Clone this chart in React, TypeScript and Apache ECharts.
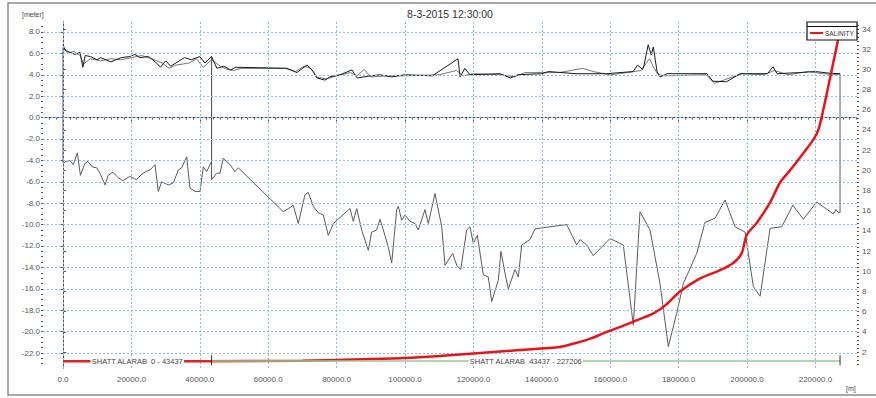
import React, { useEffect, useRef } from "react";
import * as echarts from "echarts";

// ---------- axis ticks ----------
const xTicks = [0, 20000, 40000, 60000, 80000, 100000, 120000, 140000, 160000, 180000, 200000, 220000];
const leftTicks = [-22, -20, -18, -16, -14, -12, -10, -8, -6, -4, -2, 0, 2, 4, 6, 8];
const rightTicks = [2, 4, 6, 8, 10, 12, 14, 16, 18, 20, 22, 24, 26, 28, 30, 32, 34];

// ---------- water level (meter) ----------
const waterLevelA: [number, number][] = [
  [0, 6.8], [600, 6.3], [2000, 6.1], [3500, 5.9], [5000, 6.1], [5800, 4.7], [6500, 5.8], [8000, 5.7],
  [10000, 5.4], [11000, 5.6], [14000, 5.2], [17000, 5.6], [19500, 5.7], [21000, 5.9], [22500, 5.6],
  [25000, 5.7], [27000, 5.2], [28500, 4.7], [30000, 5.3], [31500, 4.8], [33500, 5.2], [35500, 5.6],
  [37500, 5.4], [40000, 5.7], [41500, 5.1], [43437, 5.7], [45000, 4.6], [47000, 4.8], [49000, 4.45],
  [50500, 4.7], [65500, 4.6], [68400, 4.2], [70000, 4.6], [71400, 4.9], [73200, 4.3], [74300, 3.7],
  [76600, 3.5], [78000, 3.8], [81000, 4.0], [84500, 4.45], [86000, 3.7], [90000, 3.9], [92600, 4.0],
  [96000, 3.8], [100000, 4.0], [108000, 3.9], [115500, 5.5], [116100, 3.8], [117500, 4.6], [119000, 4.0],
  [127800, 4.1], [130800, 3.7], [133000, 4.0], [140000, 4.1], [142000, 4.3], [150000, 4.1], [159000, 4.1],
  [166700, 4.3], [168000, 4.9], [169500, 4.5], [169900, 4.9], [171100, 6.8], [172000, 5.85], [172600, 6.6],
  [173700, 4.3], [174600, 3.8], [176600, 4.1], [188300, 4.1], [190000, 3.4], [194000, 3.35], [198000, 4.1],
  [206000, 4.1], [207600, 4.75], [208800, 4.1], [215000, 4.2], [220000, 4.3], [224000, 4.15], [227206, 4.1],
];
const waterLevelB: [number, number][] = [
  [0, 6.5], [1500, 6.0], [3000, 6.2], [5000, 5.8], [6000, 5.0], [8000, 5.5], [11000, 5.3], [14000, 5.5],
  [17000, 5.4], [20000, 5.6], [23000, 5.8], [26000, 5.5], [29000, 5.1], [31000, 4.6], [33000, 4.9],
  [35000, 5.0], [37000, 5.1], [39000, 5.5], [41000, 4.7], [43437, 5.4], [46000, 4.8], [48000, 4.5],
  [50000, 4.4], [52000, 4.6], [65000, 4.6], [68000, 4.3], [70500, 4.8], [72500, 4.6], [74000, 3.8],
  [77000, 3.6], [80000, 3.9], [84000, 4.2], [86000, 3.9], [88000, 4.5], [90000, 3.8], [95000, 3.9],
  [100000, 3.9], [110000, 4.0], [115000, 4.4], [117000, 3.9], [120000, 4.1], [128000, 4.0], [132000, 3.8],
  [135000, 4.2], [145000, 4.2], [152000, 4.6], [155000, 4.3], [160000, 4.0], [165000, 4.2], [169000, 4.4],
  [171500, 5.5], [172500, 4.8], [174000, 4.0], [176000, 3.9], [188000, 4.0], [190500, 3.2], [198500, 4.1],
  [205000, 4.0], [208000, 4.4], [212000, 4.0], [218000, 4.3], [222000, 4.1], [227206, 4.0],
];

// ---------- bed level (meter) ----------
const bedLevel: [number, number][] = [
  [0, 6.6], [0, -4.25], [1000, -4.1], [2000, -4.0], [3000, -4.4], [4200, -3.3], [5100, -5.4], [6400, -4.3],
  [7300, -4.1], [8500, -4.6], [9900, -4.7], [10800, -5.2], [12300, -6.3], [13200, -5.4], [14600, -5.1],
  [16100, -5.6], [17500, -5.9], [19500, -5.5], [21500, -5.8], [23000, -5.3], [24500, -5.0], [25440, -4.9],
  [26900, -4.4], [27870, -6.9], [28850, -6.0], [30800, -6.3], [32260, -6.1], [33720, -4.9], [34700, -4.7],
  [36160, -3.65], [37130, -6.6], [38600, -6.9], [40060, -6.9], [41030, -4.6], [42010, -5.05], [43437, -4.1],
  [43437, 5.7], [43437, -5.8], [44930, -5.2], [45910, -5.2], [46870, -3.8], [48830, -4.4], [50290, -5.05],
  [51270, -4.7], [64420, -8.8], [67340, -8.2], [68800, -9.9], [70760, -7.2], [71730, -7.0], [73190, -8.3],
  [74650, -8.9], [76110, -9.1], [77570, -11.0], [79040, -9.9], [83920, -8.5], [84880, -9.7], [85870, -8.5],
  [87340, -10.5], [89270, -12.4], [90260, -10.7], [91720, -10.5], [92690, -9.5], [93660, -10.5],
  [95120, -12.1], [96110, -13.6], [97570, -8.6], [98050, -8.3], [99030, -9.6], [100000, -9.1],
  [101460, -9.7], [102920, -9.9], [103890, -10.5], [105850, -8.6], [106810, -9.9], [108770, -7.1],
  [110730, -10.2], [111700, -13.8], [113940, -12.7], [115120, -13.8], [116290, -14.2], [118040, -10.5],
  [119000, -10.2], [119980, -11.75], [121150, -11.0], [122900, -14.7], [124360, -14.9], [125350, -17.2],
  [127280, -15.2], [128070, -12.5], [129240, -14.55], [130210, -16.0], [132160, -14.2], [133140, -14.9],
  [134120, -11.9], [136550, -11.4], [138010, -10.4], [147280, -10.0], [150210, -11.9], [151170, -11.4],
  [153130, -11.9], [155060, -12.9], [159940, -11.3], [163830, -11.9], [166760, -19.4], [168710, -8.8],
  [171640, -10.5], [174560, -15.5], [177000, -21.4], [179440, -18.3], [181400, -15.5], [185290, -12.7],
  [187720, -9.8], [190650, -9.4], [193580, -7.7], [196500, -10.2], [199430, -10.7], [201870, -15.8],
  [203830, -16.7], [206750, -10.35], [210170, -10.2], [213400, -8.2], [216470, -9.5], [220380, -7.9],
  [225240, -9.0], [226030, -8.6], [226700, -8.9], [227206, -8.9], [227206, 4.1],
];

// ---------- salinity (right axis) ----------
const salinity: [number, number][] = [
  [0, 1.1], [40000, 1.1], [70000, 1.15], [90000, 1.3], [100000, 1.4], [110000, 1.6], [120000, 1.85],
  [133600, 2.2], [145300, 2.5], [150000, 2.9], [154000, 3.3], [159000, 4.0], [163000, 4.5], [166700, 5.0],
  [172500, 5.8], [176000, 6.6], [180400, 8.0], [186300, 9.3], [192000, 10.1], [195900, 10.8],
  [198450, 11.8], [199900, 13.6], [202840, 14.8], [206720, 16.8], [209650, 18.8], [212570, 20.0],
  [216000, 21.5], [219300, 23.0], [220850, 24.0], [222300, 26.0], [223700, 28.2], [225300, 30.8],
  [226700, 33.1], [227206, 34.3],
];

// ---------- branches ----------
const branchNames = ["SHATT ALARAB  0 - 43437", "SHATT ALARAB  43437 - 227206"];
const branchStarts = [0, 43437];
const branchEnds = [43437, 227206];
const branchLevel = -22.75;

const xMin = -5848, xMax = 232164;
const yMin = -23.4, yMax = 8.93;
const rMin = 0.42, rMax = 34.7;

const range = (a: number, b: number, s: number) => {
  const out: number[] = [];
  for (let v = a; v <= b + 1e-9; v += s) out.push(Math.round(v * 100) / 100);
  return out;
};

export default function App() {
  const ref = useRef<HTMLDivElement>(null);
  useEffect(() => {
    document.body.style.margin = "0";
    if (!ref.current) return;
    const chart = echarts.init(ref.current, undefined, { renderer: "svg" });
    const font = "Liberation Sans, Arial, sans-serif";
    const axisColor = "#555";
    const gridColor = "#86bfea";
    const labelStyle = { color: "#555", fontSize: 8, fontFamily: font };

    const branchSeries = branchNames.map((name, i) => {
      const mid = (branchStarts[i] + branchEnds[i]) / 2;
      return {
        name,
        type: "line",
        xAxisIndex: 0,
        yAxisIndex: 0,
        z: 6,
        symbol: "circle",
        symbolSize: 0,
        showSymbol: true,
        lineStyle: { color: i === 0 ? "#e02424" : "#93cc93", width: i === 0 ? 2 : 1.5 },
        itemStyle: { color: "transparent" },
        silent: true,
        data: [
          { value: [branchStarts[i], branchLevel] },
          {
            value: [mid, branchLevel],
            label: {
              show: true,
              position: "inside",
              formatter: name,
              color: "#444",
              fontSize: 7.5,
              fontFamily: font,
              backgroundColor: "#fff",
              padding: [0, 1],
            },
          },
          { value: [branchEnds[i], branchLevel] },
        ],
      };
    });

    const tickSeries = [43437, 227206].map((x) => ({
      type: "line",
      xAxisIndex: 0,
      yAxisIndex: 0,
      z: 7,
      symbol: "none",
      silent: true,
      lineStyle: { color: "#333", width: 1 },
      data: [[x, -22.2], [x, -23.15]],
    }));

    chart.setOption({
      animation: false,
      grid: { left: 43, right: 19, top: 22, bottom: 30 },
      xAxis: [
        {
          type: "value",
          min: xMin,
          max: xMax,
          axisLine: { show: true, lineStyle: { color: axisColor } },
          axisTick: { show: true, length: 4, customValues: xTicks, lineStyle: { color: axisColor } },
          axisLabel: { ...labelStyle, customValues: xTicks, margin: 7, formatter: (v: number) => v.toFixed(1) },
          splitLine: { show: false },
        },
        {
          type: "value",
          min: xMin,
          max: xMax,
          position: "bottom",
          axisLine: { show: false },
          axisTick: { show: true, length: 2, customValues: range(-4000, 232000, 2000), lineStyle: { color: axisColor } },
          axisLabel: { show: false },
          splitLine: { show: false },
        },
      ],
      yAxis: [
        {
          type: "value",
          min: yMin,
          max: yMax,
          position: "left",
          axisLine: { show: true, lineStyle: { color: axisColor } },
          axisTick: { show: true, length: 4, customValues: leftTicks, lineStyle: { color: axisColor } },
          axisLabel: { ...labelStyle, customValues: leftTicks, margin: 3, formatter: (v: number) => v.toFixed(1) },
          splitLine: { show: false },
        },
        {
          type: "value",
          min: rMin,
          max: rMax,
          position: "right",
          axisLine: { show: true, lineStyle: { color: axisColor } },
          axisTick: { show: true, length: 3, customValues: rightTicks, lineStyle: { color: axisColor } },
          axisLabel: { ...labelStyle, customValues: rightTicks, margin: 5, formatter: (v: number) => String(v) },
          splitLine: { show: false },
        },
        {
          type: "value",
          min: yMin,
          max: yMax,
          position: "left",
          axisLine: { show: false },
          axisTick: { show: true, length: 2, customValues: range(-23, 8.5, 0.5), lineStyle: { color: axisColor } },
          axisLabel: { show: false },
          splitLine: { show: false },
        },
        {
          type: "value",
          min: rMin,
          max: rMax,
          position: "right",
          axisLine: { show: false },
          axisTick: { show: true, length: 2, customValues: range(0.8, 34.4, 0.4), lineStyle: { color: axisColor } },
          axisLabel: { show: false },
          splitLine: { show: false },
        },
      ],
      series: [
        {
          name: "grid",
          type: "line",
          xAxisIndex: 0,
          yAxisIndex: 0,
          z: 1,
          data: [],
          silent: true,
          markLine: {
            silent: true,
            symbol: "none",
            animation: false,
            label: { show: false },
            lineStyle: { color: gridColor, type: [2, 2], width: 1 },
            data: [
              ...xTicks.map((v) => ({ xAxis: v })),
              ...leftTicks.map((v) => ({ yAxis: v })),
            ],
          },
        },
        {
          name: "bed",
          type: "line",
          xAxisIndex: 0,
          yAxisIndex: 0,
          z: 3,
          symbol: "none",
          lineStyle: { color: "#5a5a5a", width: 1 },
          data: bedLevel,
        },
        {
          name: "water B",
          type: "line",
          xAxisIndex: 0,
          yAxisIndex: 0,
          z: 3,
          symbol: "none",
          lineStyle: { color: "#777", width: 1 },
          data: waterLevelB,
        },
        {
          name: "water A",
          type: "line",
          xAxisIndex: 0,
          yAxisIndex: 0,
          z: 4,
          symbol: "none",
          lineStyle: { color: "#1a1a1a", width: 1 },
          data: waterLevelA,
        },
        {
          name: "SALINITY",
          type: "line",
          xAxisIndex: 0,
          yAxisIndex: 1,
          z: 5,
          symbol: "none",
          smooth: 0.25,
          lineStyle: { color: "#e8141c", width: 2.5 },
          data: salinity,
        },
        ...branchSeries,
        ...tickSeries,
      ],
      graphic: [
        {
          type: "rect",
          z: -10,
          silent: true,
          shape: { x: 8, y: 3, width: 900, height: 392 },
          style: { fill: "none", stroke: "#8c8c8c", lineWidth: 1.5 },
        },
        {
          type: "text",
          x: 450,
          y: 14,
          style: { text: "8-3-2015 12:30:00", fill: "#333", fontSize: 10.5, fontFamily: font, align: "center", verticalAlign: "middle" },
        },
        {
          type: "text",
          x: 22,
          y: 14,
          style: { text: "[meter]", fill: "#444", fontSize: 7, fontFamily: font, align: "left", verticalAlign: "middle" },
        },
        {
          type: "text",
          x: 846,
          y: 388,
          style: { text: "[m]", fill: "#444", fontSize: 7, fontFamily: font, align: "left", verticalAlign: "middle" },
        },
        {
          type: "rect",
          z: 100,
          shape: { x: 807, y: 22, width: 50, height: 18 },
          style: { fill: "#fff", stroke: "#111", lineWidth: 1.2 },
        },
        {
          type: "line",
          z: 101,
          shape: { x1: 807, y1: 26.5, x2: 857, y2: 26.5 },
          style: { stroke: "#111", lineWidth: 1.2 },
        },
        {
          type: "line",
          z: 101,
          shape: { x1: 810, y1: 33, x2: 823, y2: 33 },
          style: { stroke: "#e8141c", lineWidth: 2 },
        },
        {
          type: "text",
          z: 101,
          x: 825,
          y: 33,
          style: { text: "SALINITY", fill: "#333", fontSize: 6.5, fontFamily: font, align: "left", verticalAlign: "middle" },
        },
      ],
    });
    return () => chart.dispose();
  }, []);
  return <div ref={ref} style={{ width: 876, height: 398 }} />;
}
